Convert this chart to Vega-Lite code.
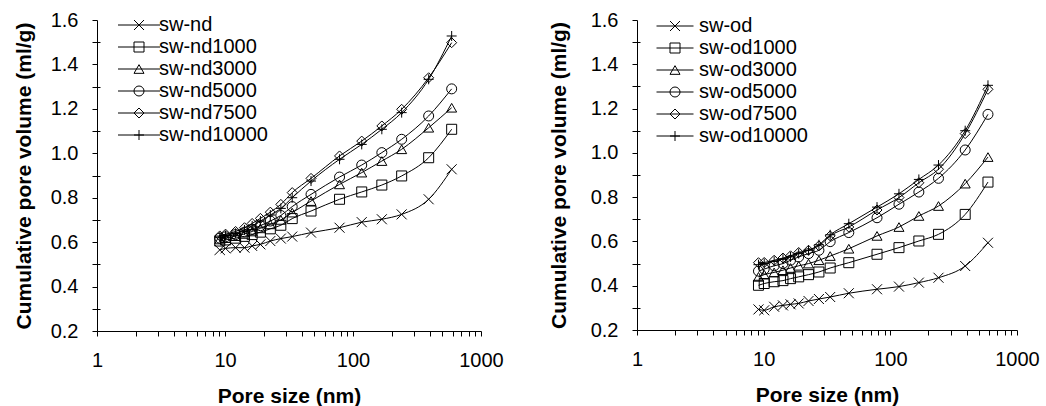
{
  "$schema": "https://vega.github.io/schema/vega-lite/v6.json",
  "padding": {"left": 13, "top": 10, "right": 0, "bottom": 0},
  "spacing": 44,
  "datasets": {
    "nd": [
      {"s":"sw-nd","x":9.1,"y":0.565},{"s":"sw-nd","x":10.1,"y":0.572},{"s":"sw-nd","x":12.1,"y":0.575},{"s":"sw-nd","x":14.2,"y":0.575},{"s":"sw-nd","x":16.3,"y":0.583},{"s":"sw-nd","x":18.9,"y":0.59},{"s":"sw-nd","x":22.6,"y":0.605},{"s":"sw-nd","x":27.3,"y":0.616},{"s":"sw-nd","x":33.5,"y":0.625},{"s":"sw-nd","x":47,"y":0.643},{"s":"sw-nd","x":78.5,"y":0.665},{"s":"sw-nd","x":117,"y":0.69},{"s":"sw-nd","x":168,"y":0.703},{"s":"sw-nd","x":240,"y":0.725},{"s":"sw-nd","x":390,"y":0.793},{"s":"sw-nd","x":590,"y":0.928},
      {"s":"sw-nd1000","x":9.1,"y":0.605},{"s":"sw-nd1000","x":10.1,"y":0.61},{"s":"sw-nd1000","x":12.1,"y":0.618},{"s":"sw-nd1000","x":14.2,"y":0.626},{"s":"sw-nd1000","x":16.3,"y":0.634},{"s":"sw-nd1000","x":18.9,"y":0.645},{"s":"sw-nd1000","x":22.6,"y":0.66},{"s":"sw-nd1000","x":27.3,"y":0.676},{"s":"sw-nd1000","x":33.5,"y":0.706},{"s":"sw-nd1000","x":47,"y":0.74},{"s":"sw-nd1000","x":78.5,"y":0.793},{"s":"sw-nd1000","x":117,"y":0.826},{"s":"sw-nd1000","x":168,"y":0.857},{"s":"sw-nd1000","x":240,"y":0.898},{"s":"sw-nd1000","x":390,"y":0.98},{"s":"sw-nd1000","x":590,"y":1.108},
      {"s":"sw-nd3000","x":9.1,"y":0.612},{"s":"sw-nd3000","x":10.1,"y":0.618},{"s":"sw-nd3000","x":12.1,"y":0.627},{"s":"sw-nd3000","x":14.2,"y":0.637},{"s":"sw-nd3000","x":16.3,"y":0.648},{"s":"sw-nd3000","x":18.9,"y":0.662},{"s":"sw-nd3000","x":22.6,"y":0.68},{"s":"sw-nd3000","x":27.3,"y":0.7},{"s":"sw-nd3000","x":33.5,"y":0.733},{"s":"sw-nd3000","x":47,"y":0.785},{"s":"sw-nd3000","x":78.5,"y":0.86},{"s":"sw-nd3000","x":117,"y":0.913},{"s":"sw-nd3000","x":168,"y":0.965},{"s":"sw-nd3000","x":240,"y":1.018},{"s":"sw-nd3000","x":390,"y":1.115},{"s":"sw-nd3000","x":590,"y":1.205},
      {"s":"sw-nd5000","x":9.1,"y":0.618},{"s":"sw-nd5000","x":10.1,"y":0.624},{"s":"sw-nd5000","x":12.1,"y":0.634},{"s":"sw-nd5000","x":14.2,"y":0.645},{"s":"sw-nd5000","x":16.3,"y":0.658},{"s":"sw-nd5000","x":18.9,"y":0.674},{"s":"sw-nd5000","x":22.6,"y":0.695},{"s":"sw-nd5000","x":27.3,"y":0.72},{"s":"sw-nd5000","x":33.5,"y":0.76},{"s":"sw-nd5000","x":47,"y":0.815},{"s":"sw-nd5000","x":78.5,"y":0.893},{"s":"sw-nd5000","x":117,"y":0.947},{"s":"sw-nd5000","x":168,"y":1.003},{"s":"sw-nd5000","x":240,"y":1.063},{"s":"sw-nd5000","x":390,"y":1.168},{"s":"sw-nd5000","x":590,"y":1.29},
      {"s":"sw-nd7500","x":9.1,"y":0.628},{"s":"sw-nd7500","x":10.1,"y":0.636},{"s":"sw-nd7500","x":12.1,"y":0.648},{"s":"sw-nd7500","x":14.2,"y":0.665},{"s":"sw-nd7500","x":16.3,"y":0.684},{"s":"sw-nd7500","x":18.9,"y":0.707},{"s":"sw-nd7500","x":22.6,"y":0.735},{"s":"sw-nd7500","x":27.3,"y":0.77},{"s":"sw-nd7500","x":33.5,"y":0.823},{"s":"sw-nd7500","x":47,"y":0.887},{"s":"sw-nd7500","x":78.5,"y":0.988},{"s":"sw-nd7500","x":117,"y":1.055},{"s":"sw-nd7500","x":168,"y":1.123},{"s":"sw-nd7500","x":240,"y":1.198},{"s":"sw-nd7500","x":390,"y":1.34},{"s":"sw-nd7500","x":590,"y":1.498},
      {"s":"sw-nd10000","x":9.1,"y":0.622},{"s":"sw-nd10000","x":10.1,"y":0.63},{"s":"sw-nd10000","x":12.1,"y":0.64},{"s":"sw-nd10000","x":14.2,"y":0.655},{"s":"sw-nd10000","x":16.3,"y":0.673},{"s":"sw-nd10000","x":18.9,"y":0.695},{"s":"sw-nd10000","x":22.6,"y":0.722},{"s":"sw-nd10000","x":27.3,"y":0.752},{"s":"sw-nd10000","x":33.5,"y":0.8},{"s":"sw-nd10000","x":47,"y":0.875},{"s":"sw-nd10000","x":78.5,"y":0.973},{"s":"sw-nd10000","x":117,"y":1.04},{"s":"sw-nd10000","x":168,"y":1.108},{"s":"sw-nd10000","x":240,"y":1.183},{"s":"sw-nd10000","x":390,"y":1.333},{"s":"sw-nd10000","x":590,"y":1.528}
    ],
    "od": [
      {"s":"sw-od","x":9.1,"y":0.293},{"s":"sw-od","x":10.1,"y":0.289},{"s":"sw-od","x":12.1,"y":0.305},{"s":"sw-od","x":14.2,"y":0.311},{"s":"sw-od","x":16.3,"y":0.316},{"s":"sw-od","x":18.9,"y":0.32},{"s":"sw-od","x":22.6,"y":0.331},{"s":"sw-od","x":27.3,"y":0.34},{"s":"sw-od","x":33.5,"y":0.349},{"s":"sw-od","x":47,"y":0.366},{"s":"sw-od","x":78.5,"y":0.384},{"s":"sw-od","x":117,"y":0.396},{"s":"sw-od","x":168,"y":0.414},{"s":"sw-od","x":240,"y":0.436},{"s":"sw-od","x":390,"y":0.489},{"s":"sw-od","x":590,"y":0.594},
      {"s":"sw-od1000","x":9.1,"y":0.402},{"s":"sw-od1000","x":10.1,"y":0.41},{"s":"sw-od1000","x":12.1,"y":0.418},{"s":"sw-od1000","x":14.2,"y":0.423},{"s":"sw-od1000","x":16.3,"y":0.432},{"s":"sw-od1000","x":18.9,"y":0.44},{"s":"sw-od1000","x":22.6,"y":0.45},{"s":"sw-od1000","x":27.3,"y":0.462},{"s":"sw-od1000","x":33.5,"y":0.48},{"s":"sw-od1000","x":47,"y":0.504},{"s":"sw-od1000","x":78.5,"y":0.542},{"s":"sw-od1000","x":117,"y":0.572},{"s":"sw-od1000","x":168,"y":0.602},{"s":"sw-od1000","x":240,"y":0.632},{"s":"sw-od1000","x":390,"y":0.722},{"s":"sw-od1000","x":590,"y":0.868},
      {"s":"sw-od3000","x":9.1,"y":0.44},{"s":"sw-od3000","x":10.1,"y":0.45},{"s":"sw-od3000","x":12.1,"y":0.46},{"s":"sw-od3000","x":14.2,"y":0.47},{"s":"sw-od3000","x":16.3,"y":0.48},{"s":"sw-od3000","x":18.9,"y":0.49},{"s":"sw-od3000","x":22.6,"y":0.5},{"s":"sw-od3000","x":27.3,"y":0.515},{"s":"sw-od3000","x":33.5,"y":0.534},{"s":"sw-od3000","x":47,"y":0.567},{"s":"sw-od3000","x":78.5,"y":0.625},{"s":"sw-od3000","x":117,"y":0.665},{"s":"sw-od3000","x":168,"y":0.715},{"s":"sw-od3000","x":240,"y":0.76},{"s":"sw-od3000","x":390,"y":0.861},{"s":"sw-od3000","x":590,"y":0.981},
      {"s":"sw-od5000","x":9.1,"y":0.466},{"s":"sw-od5000","x":10.1,"y":0.475},{"s":"sw-od5000","x":12.1,"y":0.49},{"s":"sw-od5000","x":14.2,"y":0.5},{"s":"sw-od5000","x":16.3,"y":0.515},{"s":"sw-od5000","x":18.9,"y":0.53},{"s":"sw-od5000","x":22.6,"y":0.545},{"s":"sw-od5000","x":27.3,"y":0.56},{"s":"sw-od5000","x":33.5,"y":0.599},{"s":"sw-od5000","x":47,"y":0.64},{"s":"sw-od5000","x":78.5,"y":0.707},{"s":"sw-od5000","x":117,"y":0.768},{"s":"sw-od5000","x":168,"y":0.823},{"s":"sw-od5000","x":240,"y":0.885},{"s":"sw-od5000","x":390,"y":1.013},{"s":"sw-od5000","x":590,"y":1.174},
      {"s":"sw-od7500","x":9.1,"y":0.504},{"s":"sw-od7500","x":10.1,"y":0.505},{"s":"sw-od7500","x":12.1,"y":0.515},{"s":"sw-od7500","x":14.2,"y":0.525},{"s":"sw-od7500","x":16.3,"y":0.535},{"s":"sw-od7500","x":18.9,"y":0.55},{"s":"sw-od7500","x":22.6,"y":0.56},{"s":"sw-od7500","x":27.3,"y":0.58},{"s":"sw-od7500","x":33.5,"y":0.625},{"s":"sw-od7500","x":47,"y":0.665},{"s":"sw-od7500","x":78.5,"y":0.742},{"s":"sw-od7500","x":117,"y":0.798},{"s":"sw-od7500","x":168,"y":0.865},{"s":"sw-od7500","x":240,"y":0.926},{"s":"sw-od7500","x":390,"y":1.087},{"s":"sw-od7500","x":590,"y":1.287},
      {"s":"sw-od10000","x":9.1,"y":0.495},{"s":"sw-od10000","x":10.1,"y":0.5},{"s":"sw-od10000","x":12.1,"y":0.51},{"s":"sw-od10000","x":14.2,"y":0.52},{"s":"sw-od10000","x":16.3,"y":0.53},{"s":"sw-od10000","x":18.9,"y":0.545},{"s":"sw-od10000","x":22.6,"y":0.56},{"s":"sw-od10000","x":27.3,"y":0.585},{"s":"sw-od10000","x":33.5,"y":0.63},{"s":"sw-od10000","x":47,"y":0.68},{"s":"sw-od10000","x":78.5,"y":0.755},{"s":"sw-od10000","x":117,"y":0.815},{"s":"sw-od10000","x":168,"y":0.88},{"s":"sw-od10000","x":240,"y":0.945},{"s":"sw-od10000","x":390,"y":1.1},{"s":"sw-od10000","x":590,"y":1.305}
    ]
  },
  "hconcat": [
    {
      "width": 384, "height": 311,
      "data": {"name": "nd"},
      "layer": [
        {
          "mark": {"type": "line", "interpolate": "monotone", "strokeWidth": 1},
          "encoding": {
            "x": {"field": "x", "type": "quantitative", "scale": {"type": "log", "domain": [1, 1000], "nice": false}, "axis": null},
            "y": {"field": "y", "type": "quantitative", "scale": {"domain": [0.2, 1.6], "nice": false, "zero": false},
                  "axis": {"orient": "left", "values": [0.3,0.5,0.7,0.9,1.1,1.3,1.5], "tickSize": -3, "labels": false, "domain": false, "title": null, "grid": false}},
            "color": {"field": "s", "type": "nominal", "scale": {"range": ["black"]},
                      "legend": {"orient": "none", "legendX": 32, "legendY": -5, "title": null, "symbolType": "M-4.2,0L4.2,0", "symbolSize": 100, "symbolStrokeWidth": 1, "symbolStrokeColor": "black", "labelExpr": "''", "labelFontSize": 20, "rowPadding": 2, "labelOffset": 10}}
          }
        },
        {
          "mark": {"type": "point", "filled": false, "strokeWidth": 1, "size": 100, "color": "black", "opacity": 1},
          "encoding": {
            "x": {"field": "x", "type": "quantitative", "scale": {"type": "log", "domain": [1, 1000], "nice": false},
                  "axis": {"orient": "bottom", "title": "Pore size (nm)", "values": [1,2,3,4,5,6,7,8,9,10,20,30,40,50,60,70,80,90,100,200,300,400,500,600,700,800,900,1000],
                           "labelExpr": "(datum.value==1||datum.value==10||datum.value==100||datum.value==1000) ? format(datum.value,'d') : ''"}},
            "y": {"field": "y", "type": "quantitative", "scale": {"domain": [0.2, 1.6], "nice": false, "zero": false},
                  "axis": {"orient": "left", "title": "Cumulative pore volume (ml/g)", "values": [0.2,0.3,0.4,0.5,0.6,0.7,0.8,0.9,1.0,1.1,1.2,1.3,1.4,1.5,1.6],
                           "labelExpr": "(round(datum.value*10)%2==0) ? format(datum.value,'.1f') : ''"}},
            "shape": {"field": "s", "type": "nominal",
                      "scale": {"domain": ["sw-nd","sw-nd1000","sw-nd3000","sw-nd5000","sw-nd7500","sw-nd10000"],
                                "range": ["M-1,-1L1,1M1,-1L-1,1","square","triangle-up","circle","diamond","M-1,0L1,0M0,-1L0,1"]},
                      "legend": {"orient": "none", "legendX": 32, "legendY": -5, "title": null, "symbolSize": 100, "symbolStrokeWidth": 1, "symbolStrokeColor": "black", "symbolFillColor": "white", "labelFontSize": 20, "rowPadding": 2, "labelOffset": 10}}
          }
        }
      ],
      "resolve": {"axis": {"x": "independent", "y": "independent"}}
    },
    {
      "width": 380, "height": 310,
      "data": {"name": "od"},
      "layer": [
        {
          "mark": {"type": "line", "interpolate": "monotone", "strokeWidth": 1},
          "encoding": {
            "x": {"field": "x", "type": "quantitative", "scale": {"type": "log", "domain": [1, 1000], "nice": false}, "axis": null},
            "y": {"field": "y", "type": "quantitative", "scale": {"domain": [0.2, 1.6], "nice": false, "zero": false},
                  "axis": {"orient": "left", "values": [0.3,0.5,0.7,0.9,1.1,1.3,1.5], "tickSize": -3, "labels": false, "domain": false, "title": null, "grid": false}},
            "color": {"field": "s", "type": "nominal", "scale": {"range": ["black"]},
                      "legend": {"orient": "none", "legendX": 28, "legendY": -4, "title": null, "symbolType": "M-3.7,0L3.7,0", "symbolSize": 100, "symbolStrokeWidth": 1, "symbolStrokeColor": "black", "labelExpr": "''", "labelFontSize": 20, "rowPadding": 2, "labelOffset": 14}}
          }
        },
        {
          "mark": {"type": "point", "filled": false, "strokeWidth": 1, "size": 100, "color": "black", "opacity": 1},
          "encoding": {
            "x": {"field": "x", "type": "quantitative", "scale": {"type": "log", "domain": [1, 1000], "nice": false},
                  "axis": {"orient": "bottom", "title": "Pore size (nm)", "values": [1,2,3,4,5,6,7,8,9,10,20,30,40,50,60,70,80,90,100,200,300,400,500,600,700,800,900,1000],
                           "labelExpr": "(datum.value==1||datum.value==10||datum.value==100||datum.value==1000) ? format(datum.value,'d') : ''"}},
            "y": {"field": "y", "type": "quantitative", "scale": {"domain": [0.2, 1.6], "nice": false, "zero": false},
                  "axis": {"orient": "left", "title": "Cumulative pore volume (ml/g)", "titlePadding": 21, "values": [0.2,0.3,0.4,0.5,0.6,0.7,0.8,0.9,1.0,1.1,1.2,1.3,1.4,1.5,1.6],
                           "labelExpr": "(round(datum.value*10)%2==0) ? format(datum.value,'.1f') : ''"}},
            "shape": {"field": "s", "type": "nominal",
                      "scale": {"domain": ["sw-od","sw-od1000","sw-od3000","sw-od5000","sw-od7500","sw-od10000"],
                                "range": ["M-1,-1L1,1M1,-1L-1,1","square","triangle-up","circle","diamond","M-1,0L1,0M0,-1L0,1"]},
                      "legend": {"orient": "none", "legendX": 28, "legendY": -4, "title": null, "symbolSize": 100, "symbolStrokeWidth": 1, "symbolStrokeColor": "black", "symbolFillColor": "white", "labelFontSize": 20, "rowPadding": 2, "labelOffset": 14}}
          }
        }
      ],
      "resolve": {"axis": {"x": "independent", "y": "independent"}}
    }
  ],
  "resolve": {"scale": {"x": "independent", "y": "independent", "color": "independent", "shape": "independent"}, "legend": {"color": "independent", "shape": "independent"}},
  "config": {
    "font": "Liberation Sans",
    "view": {"stroke": null},
    "axis": {
      "grid": false, "domainColor": "black", "tickColor": "black", "domainWidth": 1, "tickWidth": 1, "tickSize": 5,
      "labelColor": "black", "labelFont": "Liberation Sans", "labelFontSize": 20, "labelPadding": 14,
      "labelOverlap": false, "labelFlush": false, "labelBound": false,
      "titleColor": "black", "titleFont": "Liberation Sans", "titleFontSize": 21, "titleFontWeight": "bold"
    },
    "axisX": {"titlePadding": 15, "labelPadding": 14},
    "axisY": {"titlePadding": 16},
    "legend": {"labelColor": "black", "labelFont": "Liberation Sans", "padding": 0}
  }
}
